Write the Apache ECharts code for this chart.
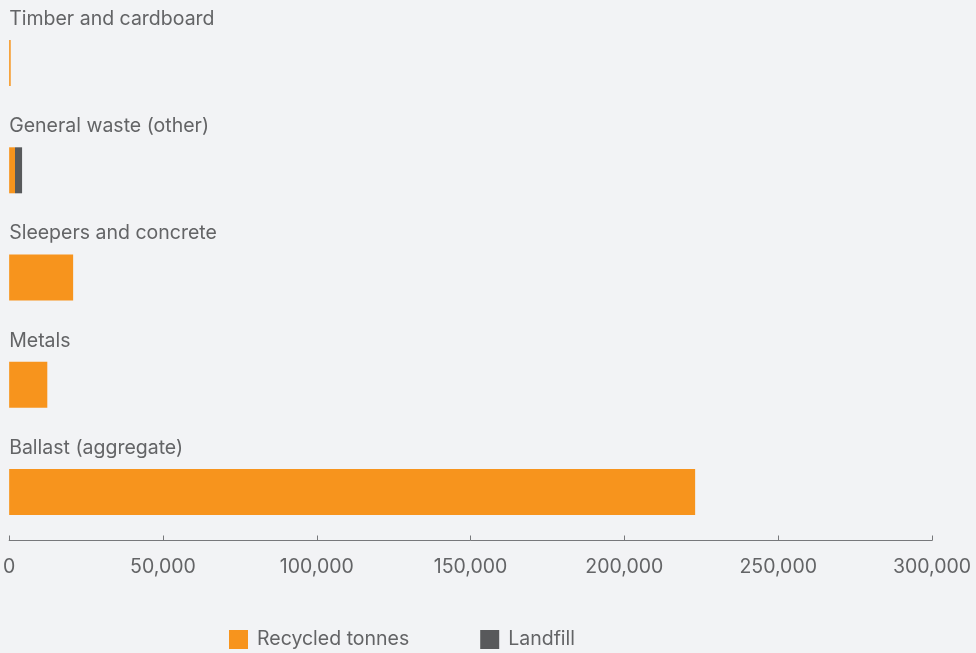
<!DOCTYPE html>
<html>
<head>
<meta charset="utf-8">
<script src="https://cdn.jsdelivr.net/npm/echarts@6/dist/echarts.min.js"></script>
<style>
  html, body { margin: 0; padding: 0; background: #f2f3f5; }
  #chart { width: 976px; height: 653px; }
</style>
</head>
<body>
<div id="chart"></div>
<script>
const categories = [
  "Timber and cardboard",
  "General waste (other)",
  "Sleepers and concrete",
  "Metals",
  "Ballast (aggregate)",
];
const recycled = [500, 1900, 20800, 12400, 223000];
const landfill = [0, 2300, 0, 0, 0];
const xTicks = [0, 50000, 100000, 150000, 200000, 250000, 300000];

const textColor = "#636466";
const chart = echarts.init(document.getElementById("chart"));

const option = {
  backgroundColor: "#f2f3f5",
  textStyle: { fontFamily: "Inter, 'Noto Sans', sans-serif" },
  grid: { left: 9, right: 44, top: 9.5, bottom: 107.5 },
  xAxis: {
    type: "value",
    min: xTicks[0],
    max: xTicks[xTicks.length - 1],
    interval: xTicks[1] - xTicks[0],
    offset: -5,
    axisLine: { show: true, lineStyle: { color: "#77787b", width: 1 } },
    axisTick: { show: true, inside: true, length: 5, lineStyle: { color: "#77787b" } },
    splitLine: { show: false },
    axisLabel: {
      color: textColor,
      fontSize: 19.5,
      margin: 17,
      formatter: (v) => v.toLocaleString("en-US"),
    },
  },
  yAxis: {
    type: "category",
    data: categories,
    inverse: true,
    axisLine: { show: false },
    axisTick: { show: false },
    axisLabel: { show: false },
  },
  legend: {
    top: 629.5,
    left: 229,
    padding: 0,
    itemWidth: 19,
    itemHeight: 19,
    itemGap: 71,
    icon: "rect",
    textStyle: { color: textColor, fontSize: 19.5, padding: [0, 0, 0, 4] },
    data: ["Recycled tonnes", "Landfill"],
  },
  series: [
    {
      name: "Recycled tonnes",
      type: "bar",
      stack: "total",
      barWidth: 46,
      data: recycled,
      itemStyle: { color: "#f7941d" },
      label: {
        show: true,
        position: [0, -21],
        verticalAlign: "middle",
        align: "left",
        formatter: "{b}",
        color: textColor,
        fontSize: 19.5,
      },
    },
    {
      name: "Landfill",
      type: "bar",
      stack: "total",
      barWidth: 46,
      data: landfill,
      itemStyle: { color: "#58595b" },
    },
  ],
};

chart.setOption(option);
</script>
</body>
</html>
